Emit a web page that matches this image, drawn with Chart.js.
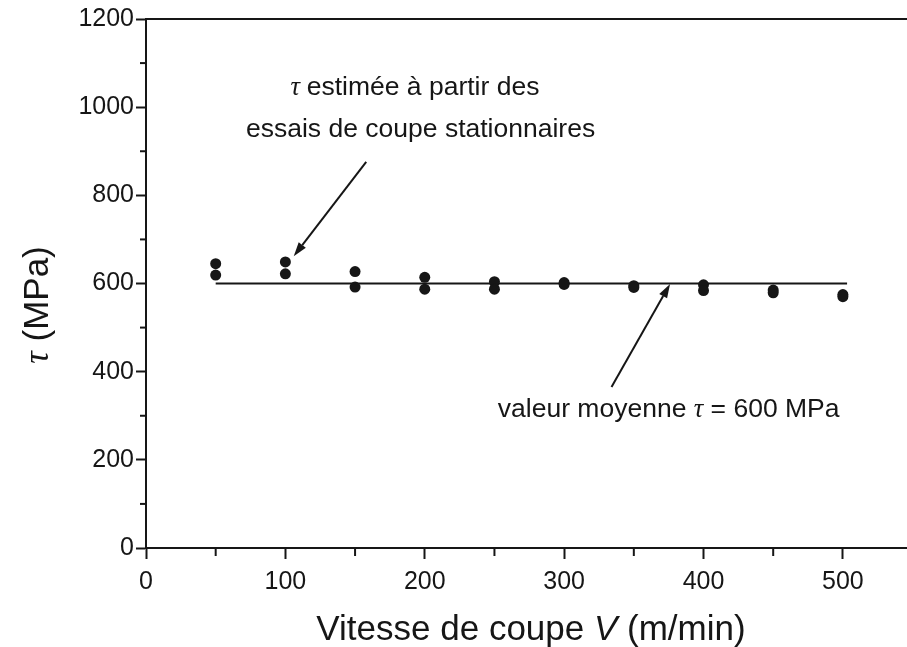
<!DOCTYPE html>
<html>
<head>
<meta charset="utf-8">
<script src="https://cdn.jsdelivr.net/npm/chart.js@4.4.1/dist/chart.umd.min.js"></script>
<style>
  html, body { margin: 0; padding: 0; background: #fff; }
  #wrap { width: 907px; height: 647px; position: relative; }
</style>
</head>
<body>
<div id="wrap"><canvas id="chart"></canvas></div>
<script>
// cutting speed (m/min) and shear stress tau (MPa), two runs per speed
const speeds = [50, 50, 100, 100, 150, 150, 200, 200, 250, 250, 300, 300, 350, 350, 400, 400, 450, 450, 500, 500]
const shearStress = [645, 619, 649, 622, 627, 592, 614, 587, 604, 587, 602, 598, 595, 591, 597, 584, 585, 579, 575, 570]

// mean value line
const meanSpeeds = [50, 503]
const meanStress = [600, 600]

const xTicks = [0, 100, 200, 300, 400, 500]
const yTicks = [0, 200, 400, 600, 800, 1000, 1200]

const SANS = '"Liberation Sans", Arial, Helvetica, sans-serif'
const SERIF = '"Liberation Serif", "Times New Roman", serif'
const INK = '#161616'

// draws a row of text pieces with different fonts, centred on x
function drawRuns(ctx, runs, x, y) {
  let total = 0
  runs.forEach(r => {
    ctx.font = r.font
    r.w = ctx.measureText(r.text).width
    total += r.w
  })
  let cx = x - total / 2
  ctx.textAlign = "left"
  runs.forEach(r => {
    ctx.font = r.font
    ctx.fillText(r.text, cx, y)
    cx += r.w
  })
}

function arrow(ctx, x1, y1, x2, y2) {
  const ang = Math.atan2(y2 - y1, x2 - x1)
  const len = 14, half = 4.5
  const bx = x2 - len * Math.cos(ang)
  const by = y2 - len * Math.sin(ang)
  ctx.beginPath()
  ctx.moveTo(x1, y1)
  ctx.lineTo(bx, by)
  ctx.lineWidth = 2
  ctx.stroke()
  ctx.beginPath()
  ctx.moveTo(x2, y2)
  ctx.lineTo(bx + half * Math.sin(ang), by - half * Math.cos(ang))
  ctx.lineTo(bx - half * Math.sin(ang), by + half * Math.cos(ang))
  ctx.closePath()
  ctx.fill()
}

const decorations = {
  id: "decorations",
  afterDraw(chart) {
    const { ctx, chartArea, scales } = chart
    const x = scales.x, y = scales.y
    ctx.save()
    ctx.strokeStyle = INK
    ctx.fillStyle = INK

    // top frame line
    ctx.lineWidth = 2
    ctx.beginPath()
    ctx.moveTo(chartArea.left - 1, chartArea.top)
    ctx.lineTo(chart.width, chartArea.top)
    ctx.stroke()

    // minor ticks
    ctx.lineWidth = 2
    for (let v = 50; v < x.max; v += 100) {
      const px = x.getPixelForValue(v)
      ctx.beginPath()
      ctx.moveTo(px, chartArea.bottom)
      ctx.lineTo(px, chartArea.bottom + 8)
      ctx.stroke()
    }
    for (let v = 100; v < y.max; v += 200) {
      const py = y.getPixelForValue(v)
      ctx.beginPath()
      ctx.moveTo(chartArea.left, py)
      ctx.lineTo(chartArea.left - 6, py)
      ctx.stroke()
    }

    // annotations
    ctx.textBaseline = "alphabetic"
    const f = 26.5
    drawRuns(ctx, [
      { text: "τ ", font: `italic ${f}px ${SERIF}` },
      { text: "estimée à partir des", font: `${f}px ${SANS}` }
    ], x.getPixelForValue(193), y.getPixelForValue(1028))
    drawRuns(ctx, [
      { text: "essais de coupe stationnaires", font: `${f}px ${SANS}` }
    ], x.getPixelForValue(197), y.getPixelForValue(932))
    drawRuns(ctx, [
      { text: "valeur moyenne ", font: `${f}px ${SANS}` },
      { text: "τ", font: `italic ${f}px ${SERIF}` },
      { text: " = 600 MPa", font: `${f}px ${SANS}` }
    ], x.getPixelForValue(375), y.getPixelForValue(297))

    arrow(ctx, x.getPixelForValue(158), y.getPixelForValue(876), x.getPixelForValue(106), y.getPixelForValue(662))
    arrow(ctx, x.getPixelForValue(334), y.getPixelForValue(365), x.getPixelForValue(376), y.getPixelForValue(599))

    // axis titles
    const t = 35
    drawRuns(ctx, [
      { text: "Vitesse de coupe ", font: `${t}px ${SANS}` },
      { text: "V", font: `italic ${t}px ${SANS}` },
      { text: " (m/min)", font: `${t}px ${SANS}` }
    ], 531, 640)

    ctx.translate(48, 305)
    ctx.rotate(-Math.PI / 2)
    drawRuns(ctx, [
      { text: "τ", font: `italic ${t}px ${SERIF}` },
      { text: " (MPa)", font: `${t}px ${SANS}` }
    ], 0, 0)
    ctx.restore()
  }
}

new Chart(document.getElementById("chart"), {
  type: "scatter",
  data: {
    datasets: [
      {
        data: speeds.map((v, i) => ({ x: v, y: shearStress[i] })),
        pointRadius: 5.5,
        pointBackgroundColor: INK,
        pointBorderWidth: 0,
        showLine: false
      },
      {
        data: meanSpeeds.map((v, i) => ({ x: v, y: meanStress[i] })),
        showLine: true,
        pointRadius: 0,
        borderColor: INK,
        borderWidth: 2
      }
    ]
  },
  options: {
    responsive: true,
    maintainAspectRatio: false,
    animation: false,
    layout: { autoPadding: false, padding: { top: 19, right: 0, left: 0, bottom: 0 } },
    plugins: { legend: { display: false }, tooltip: { enabled: false } },
    scales: {
      x: {
        type: "linear",
        min: 0,
        max: 546,
        border: { display: true, color: INK, width: 2 },
        grid: { drawOnChartArea: false, tickLength: 11, tickColor: INK, tickWidth: 2 },
        ticks: {
          stepSize: 100,
          includeBounds: false,
          maxRotation: 0,
          padding: 8,
          color: INK,
          font: { family: SANS, size: 25 },
          callback: v => xTicks.includes(v) ? v : ""
        },
        afterFit(scale) {
          scale.height = 99
          scale.paddingLeft = 0
          scale.paddingRight = 0
        }
      },
      y: {
        min: 0,
        max: 1200,
        border: { display: true, color: INK, width: 2 },
        grid: { drawOnChartArea: false, tickLength: 10, tickColor: INK, tickWidth: 2 },
        ticks: {
          stepSize: 200,
          padding: 2,
          color: INK,
          font: { family: SANS, size: 25 },
          callback: v => yTicks.includes(v) ? v : ""
        },
        afterFit(scale) { scale.width = 146 }
      }
    }
  },
  plugins: [decorations]
})
</script>
</body>
</html>
